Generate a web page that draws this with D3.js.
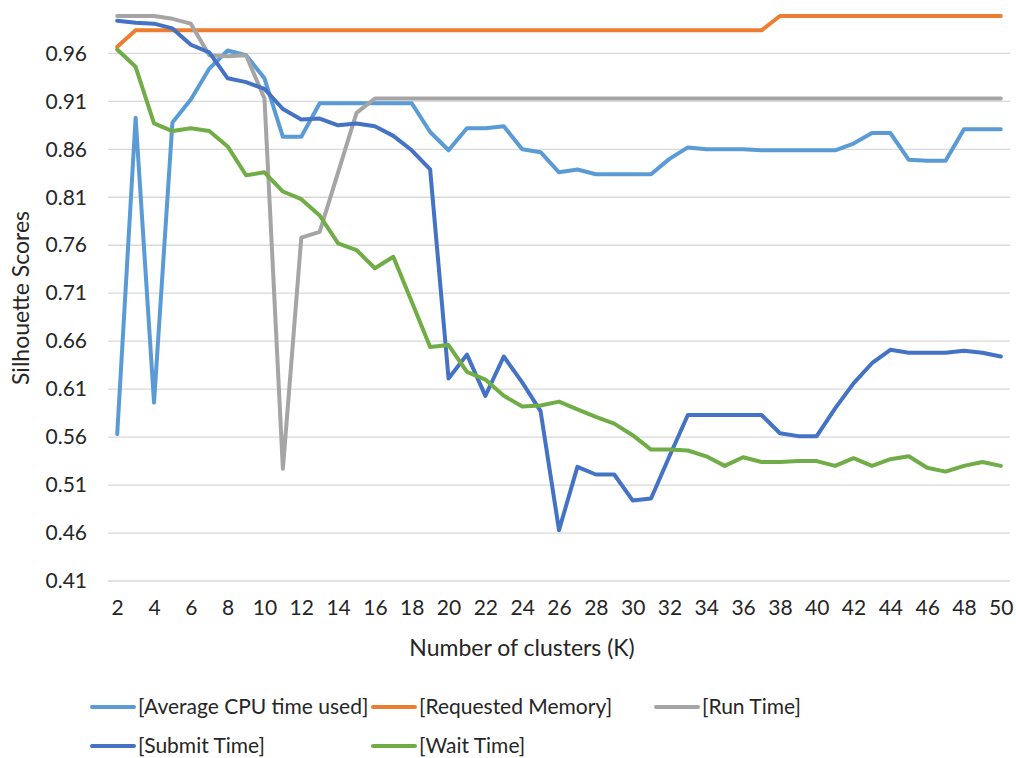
<!DOCTYPE html>
<html>
<head>
<meta charset="utf-8">
<script src="https://cdn.jsdelivr.net/npm/d3@7"></script>
<style>
  html, body { margin: 0; padding: 0; background: #fff; }
  svg text { font-family: Lato, "Open Sans", sans-serif; fill: #262626; }
</style>
</head>
<body>
<svg id="chart" width="1016" height="758"></svg>
<script>
const clusters = d3.range(2, 51);

const avgCpu = [0.563, 0.893, 0.596, 0.888, 0.912, 0.944, 0.963, 0.958, 0.934, 0.873,
  0.873, 0.908, 0.908, 0.908, 0.908, 0.908, 0.908, 0.878, 0.859, 0.882,
  0.882, 0.884, 0.860, 0.857, 0.836, 0.839, 0.834, 0.834, 0.834, 0.834,
  0.850, 0.862, 0.860, 0.860, 0.860, 0.859, 0.859, 0.859, 0.859, 0.859,
  0.866, 0.877, 0.877, 0.849, 0.848, 0.848, 0.881, 0.881, 0.881];

const requestedMemory = [0.967, 0.984, 0.984, 0.984, 0.984, 0.984, 0.984, 0.984, 0.984, 0.984,
  0.984, 0.984, 0.984, 0.984, 0.984, 0.984, 0.984, 0.984, 0.984, 0.984,
  0.984, 0.984, 0.984, 0.984, 0.984, 0.984, 0.984, 0.984, 0.984, 0.984,
  0.984, 0.984, 0.984, 0.984, 0.984, 0.984, 0.999, 0.999, 0.999, 0.999,
  0.999, 0.999, 0.999, 0.999, 0.999, 0.999, 0.999, 0.999, 0.999];

const runTime = [0.999, 0.999, 0.999, 0.996, 0.991, 0.958, 0.957, 0.958, 0.913, 0.527,
  0.768, 0.774, 0.836, 0.898, 0.913, 0.913, 0.913, 0.913, 0.913, 0.913,
  0.913, 0.913, 0.913, 0.913, 0.913, 0.913, 0.913, 0.913, 0.913, 0.913,
  0.913, 0.913, 0.913, 0.913, 0.913, 0.913, 0.913, 0.913, 0.913, 0.913,
  0.913, 0.913, 0.913, 0.913, 0.913, 0.913, 0.913, 0.913, 0.913];

const submitTime = [0.994, 0.992, 0.991, 0.986, 0.969, 0.961, 0.934, 0.930, 0.923, 0.902,
  0.891, 0.892, 0.885, 0.887, 0.884, 0.874, 0.859, 0.839, 0.621, 0.646,
  0.603, 0.644, 0.617, 0.587, 0.463, 0.529, 0.521, 0.521, 0.494, 0.496,
  0.540, 0.583, 0.583, 0.583, 0.583, 0.583, 0.564, 0.561, 0.561, 0.590,
  0.616, 0.637, 0.651, 0.648, 0.648, 0.648, 0.650, 0.648, 0.644];

const waitTime = [0.964, 0.946, 0.887, 0.879, 0.882, 0.879, 0.863, 0.833, 0.836, 0.816,
  0.808, 0.791, 0.762, 0.755, 0.736, 0.748, 0.701, 0.654, 0.656, 0.628,
  0.620, 0.603, 0.592, 0.593, 0.597, 0.589, 0.581, 0.574, 0.562, 0.547,
  0.547, 0.546, 0.540, 0.530, 0.539, 0.534, 0.534, 0.535, 0.535, 0.530,
  0.538, 0.530, 0.537, 0.540, 0.528, 0.524, 0.530, 0.534, 0.530];

const seriesNames = ["[Average CPU time used]", "[Requested Memory]", "[Run Time]", "[Submit Time]", "[Wait Time]"];
const seriesValues = [avgCpu, requestedMemory, runTime, submitTime, waitTime];
const seriesColors = ["#5B9BD5", "#ED7D31", "#A5A5A5", "#4472C4", "#70AD47"];

const yTicks = [0.41, 0.46, 0.51, 0.56, 0.61, 0.66, 0.71, 0.76, 0.81, 0.86, 0.91, 0.96];
const xTickLabels = d3.range(2, 51, 2);

const svg = d3.select("#chart");
const plot = { left: 108, right: 1010, top: 15, bottom: 581 };
const fontSize = 21;
const titleSize = 23;

const x = d3.scalePoint().domain(clusters).range([plot.left, plot.right]).padding(0.5);
const y = d3.scaleLinear().domain([0.41, 1.0]).range([plot.bottom, plot.top]);

// gridlines
svg.append("g")
  .selectAll("line")
  .data(yTicks)
  .enter()
  .append("line")
  .attr("x1", plot.left)
  .attr("x2", plot.right)
  .attr("y1", (d) => y(d))
  .attr("y2", (d) => y(d))
  .attr("stroke", "#D9D9D9")
  .attr("stroke-width", 1.3);

// y axis labels
const yAxis = svg.append("g")
  .attr("transform", `translate(${plot.left - 21}, 0)`)
  .call(d3.axisLeft(y).tickValues(yTicks).tickFormat(d3.format(".2f")).tickSize(0).tickPadding(0));
yAxis.select(".domain").remove();
yAxis.selectAll("text").attr("font-size", fontSize).attr("font-family", null).attr("fill", "#262626");

// x axis labels
const xAxis = svg.append("g")
  .attr("transform", `translate(0, ${plot.bottom + 19})`)
  .call(d3.axisBottom(x).tickValues(xTickLabels).tickSize(0).tickPadding(0));
xAxis.select(".domain").remove();
xAxis.selectAll("text").attr("font-size", fontSize).attr("font-family", null).attr("fill", "#262626");

svg.append("text")
  .attr("x", 522)
  .attr("y", 656)
  .attr("text-anchor", "middle")
  .attr("font-size", titleSize)
  .text("Number of clusters (K)");

svg.append("text")
  .attr("transform", `translate(29, ${(plot.top + plot.bottom) / 2}) rotate(-90)`)
  .attr("text-anchor", "middle")
  .attr("font-size", titleSize)
  .text("Silhouette Scores");

// series lines
const line = d3.line()
  .x((d, i) => x(clusters[i]))
  .y((d) => y(d));

svg.append("g")
  .selectAll("path")
  .data(seriesValues)
  .enter()
  .append("path")
  .attr("d", (values) => line(values))
  .attr("fill", "none")
  .attr("stroke", (d, i) => seriesColors[i])
  .attr("stroke-width", 4)
  .attr("stroke-linejoin", "round")
  .attr("stroke-linecap", "round");

// legend
const legendPos = [
  { x: 92, y: 707 },
  { x: 373, y: 707 },
  { x: 656, y: 707 },
  { x: 92, y: 746 },
  { x: 373, y: 746 },
];
const legend = svg.append("g")
  .selectAll("g")
  .data(seriesNames)
  .enter()
  .append("g")
  .attr("transform", (d, i) => `translate(${legendPos[i].x}, ${legendPos[i].y})`);
legend.append("line")
  .attr("x1", 0)
  .attr("x2", 42)
  .attr("stroke", (d, i) => seriesColors[i])
  .attr("stroke-width", 4)
  .attr("stroke-linecap", "round");
legend.append("text")
  .attr("x", 46)
  .attr("dy", "0.35em")
  .attr("font-size", fontSize)
  .text((d) => d);
</script>
</body>
</html>
